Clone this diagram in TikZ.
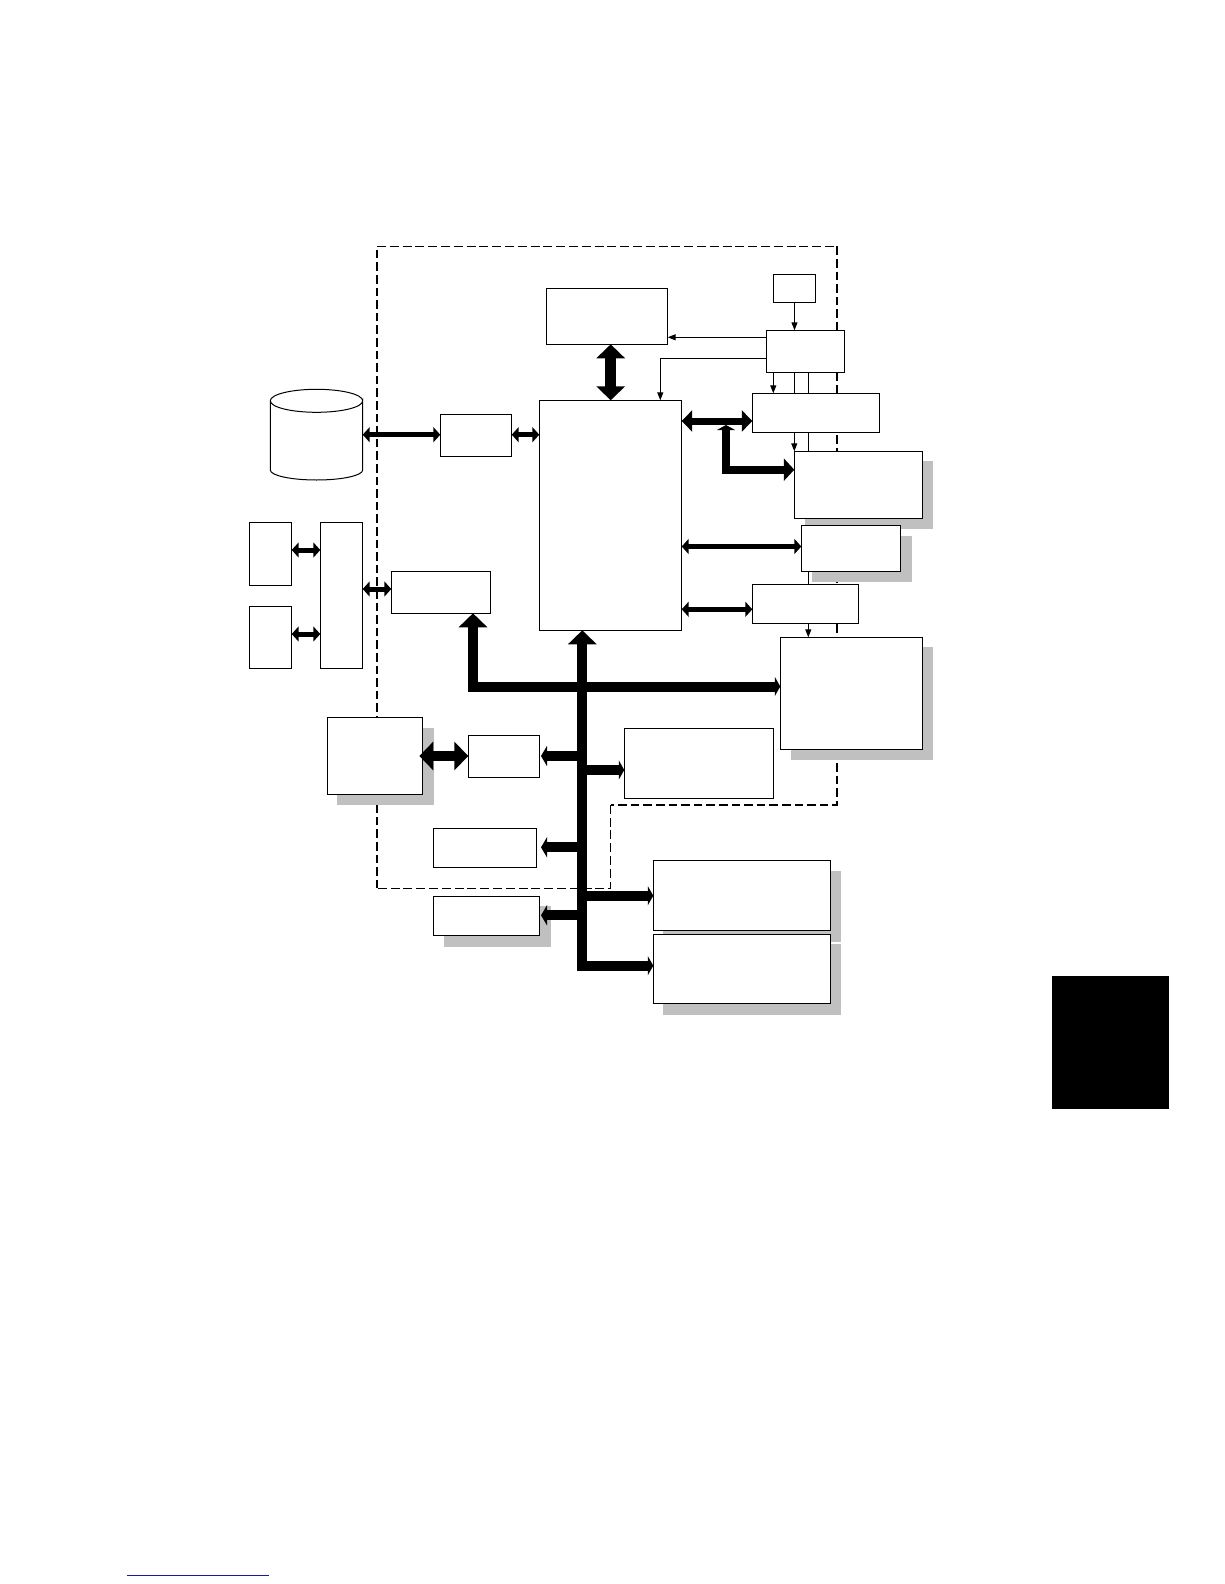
\documentclass[tikz,border=0pt]{standalone}
\usetikzlibrary{arrows.meta}
\definecolor{shadowgray}{HTML}{C0C0C0}
\definecolor{rulenavy}{HTML}{1A1A9C}
\tikzset{
  bx/.style={draw=black,fill=white,line width=1pt,inner sep=0pt,outer sep=0pt},
  shadowfill/.style={fill=shadowgray,draw=none},
  thinline/.style={draw=black,line width=1pt},
  thinarrow/.style={thinline,-{Triangle[length=8pt,width=6pt]}},
  dashthick/.style={draw=black,line width=2pt,dash pattern=on 8.6pt off 4pt},
  dashthin/.style={draw=black,line width=1.1pt,dash pattern=on 9pt off 3.8pt},
  medarrow/.style={draw=black,line width=5pt,{Triangle[length=7pt,width=15pt]}-{Triangle[length=7pt,width=15pt]}},
  widearrow/.style={draw=black,line width=7pt,{Triangle[length=10.5pt,width=21pt]}-{Triangle[length=10.5pt,width=21pt]}},
  bigarrow/.style={draw=black,line width=10.5pt,{Triangle[length=14pt,width=28pt]}-{Triangle[length=14pt,width=28pt]}},
  busline/.style={draw=black,line width=10pt,miter limit=10},
  branchr/.style={busline,-{Triangle[length=5.5pt,width=19pt]}},
  branchl/.style={busline,-{Triangle[length=6pt,width=20pt]}},
  bigup/.style={-{Triangle[length=14pt,width=28pt]}},
}
\newcommand{\boxat}[5]{% name x1 y1 x2 y2
  \pgfmathsetmacro{\bxw}{#4-#2}\pgfmathsetmacro{\bxh}{#5-#3}
  \pgfmathsetmacro{\bxcx}{(#2+#4)/2}\pgfmathsetmacro{\bxcy}{(#3+#5)/2}
  \node[bx,minimum width=\bxw pt,minimum height=\bxh pt] (#1) at (\bxcx,\bxcy) {};}
\begin{document}
\begin{tikzpicture}[x=1pt,y=-1pt]
\useasboundingbox (0,0) rectangle (1224,1584);
\fill[white] (0,0) rectangle (1224,1584);

% dashed boundary
\draw[dashthin] (377,246.3) -- (837,246.3);
\draw[dashthick] (837,246.3) -- (837,804.7) -- (611,804.7);
\draw[dashthin] (610.3,804.7) -- (610.3,888.3) -- (377,888.3);
\draw[dashthick] (377,888.3) -- (377,246.3);

% shadows
\fill[shadowfill] (805,461) rectangle (933,529.3);
\fill[shadowfill] (812,536) rectangle (912,581.7);
\fill[shadowfill] (791,647) rectangle (933,759.7);
\fill[shadowfill] (337,728) rectangle (434,804.7);
\fill[shadowfill] (444,906) rectangle (551,946.7);
\fill[shadowfill] (663,871) rectangle (841,941.7);
\fill[shadowfill] (663,943.7) rectangle (841,1015);

\coordinate (lineA) at (794.3,372);
\coordinate (lineB) at (808.3,372);
\coordinate (tapC) at (660.3,358.3);
\coordinate (tapD) at (773.3,372.3);

% boxes
\boxat{top}{546.3}{288.3}{667.7}{344.3}
\boxat{clock}{773.3}{274.3}{815.7}{302.3}
\boxat{ctrl}{766.3}{330.3}{844.3}{372.3}
\boxat{cpu}{539.3}{400.3}{681.7}{630.3}
\boxat{rone}{752.3}{393.3}{879.7}{432.3}
\boxat{rtwo}{794.3}{451.3}{922.3}{518.3}
\boxat{rthree}{801.3}{525.3}{900.3}{571.3}
\boxat{rfour}{752.3}{584.3}{858.3}{623.3}
\boxat{rfive}{780.3}{637.3}{922.7}{749.3}
\boxat{mid}{624.3}{728.3}{773.3}{798.3}
\boxat{diskc}{440.3}{414.3}{511.7}{456.3}
\boxat{leftone}{249.3}{522.3}{291.7}{585.3}
\boxat{lefttwo}{249.3}{606.3}{291.7}{668.3}
\boxat{tall}{320.3}{522.3}{362.7}{668.3}
\boxat{usb}{391.3}{571.3}{490.3}{613.3}
\boxat{ext}{327.3}{717.3}{422.7}{794.3}
\boxat{link}{468.3}{735.3}{539.7}{777.3}
\boxat{lowa}{433.3}{828.3}{536.7}{867.7}
\boxat{lowb}{433.3}{896.3}{539.7}{935.3}
\boxat{opta}{653.3}{860.3}{830.7}{930.3}
\boxat{optb}{653.3}{934.3}{830.7}{1003.3}

% thin connectors
\draw[thinarrow] (clock.south) -- (ctrl.north -| clock.south);
\draw[thinarrow] (ctrl.west |- 0,337.3) -- (top.east |- 0,337.3);
\draw[thinarrow] (ctrl.west |- 0,358.3) -- (tapC) -- (tapC |- cpu.north);
\draw[thinarrow] (tapD) -- (tapD |- rone.north);
\draw[thinline] (lineA |- ctrl.south) -- (lineA |- rone.north);
\draw[thinline] (lineB |- ctrl.south) -- (lineB |- rone.north);
\draw[thinarrow] (lineA |- rone.south) -- (lineA |- rtwo.north);
\draw[thinline] (lineB |- rone.south) -- (lineB |- rtwo.north);
\draw[thinline] (lineB |- rthree.south) -- (lineB |- rfour.north);
\draw[thinarrow] (lineB |- rfour.south) -- (lineB |- rfive.north);

% disk
\node[inner sep=0pt,outer sep=0pt,minimum width=92.4pt,minimum height=90.7pt] (disk) at (316.5,434.7) {};
\draw[bx] (270.3,400.8) -- (270.3,470) arc[start angle=180,end angle=360,x radius=46.2,y radius=-10] -- (362.7,400.8) arc[start angle=0,end angle=360,x radius=46.2,y radius=11.5];

% medium double arrows
\draw[medarrow] (disk.east |- 0,434.7) -- (diskc.west |- 0,434.7);
\draw[medarrow] (diskc.east |- 0,434.7) -- (cpu.west |- 0,434.7);
\draw[medarrow] (leftone.east |- 0,550) -- (tall.west |- 0,550);
\draw[medarrow] (lefttwo.east |- 0,634) -- (tall.west |- 0,634);
\draw[medarrow] (tall.east |- 0,589) -- (usb.west |- 0,589);
\draw[medarrow] (cpu.east |- 0,546.5) -- (rthree.west |- 0,546.5);
\draw[medarrow] (cpu.east |- 0,609.3) -- (rfour.west |- 0,609.3);

% wide arrows
\draw[widearrow] (cpu.east |- 0,421) -- (rone.west |- 0,421);
\draw[draw=black,line width=8pt,{Triangle[length=5pt,width=18pt]}-{Triangle[length=10.5pt,width=22pt]}]
  (726,425) -- (726,469.7) -- (rtwo.west |- 0,469.7);

% big arrows
\draw[bigarrow] (top.south -| 610.7,0) -- (cpu.north -| 610.7,0);
\draw[bigarrow] (419.3,756) -- (link.west |- 0,756);

% bus
\coordinate (busbot) at (582.3,965.7);
\draw[busline,bigup] (busbot) -- (cpu.south -| busbot);
\draw[busline,bigup] (582.3,686.5) -- (473,686.5) -- (usb.south -| 473,0);
\draw[branchr] (582.3,686.5) -- (rfive.west |- 0,686.5);
\draw[busline,line cap=rect] (582.3,965.7) -- (600,965.7);
\draw[branchr] (582.3,965.7) -- (optb.west |- 0,965.7);
\draw[branchr] (582.3,895.7) -- (opta.west |- 0,895.7);
\draw[branchr] (582.3,770) -- (mid.west |- 0,770);
\coordinate (tipa) at (541,756);
\coordinate (tipb) at (541,847.3);
\coordinate (tipc) at (541,915.3);
\draw[branchl] (582.3,756) -- (tipa);
\draw[branchl] (582.3,847.3) -- (tipb);
\draw[branchl] (582.3,915.3) -- (tipc);

% page furniture
\fill[black] (1052,976) rectangle (1169,1108.7);
\draw[rulenavy,line width=1pt] (127,1575) -- (269,1575);
\end{tikzpicture}
\end{document}
